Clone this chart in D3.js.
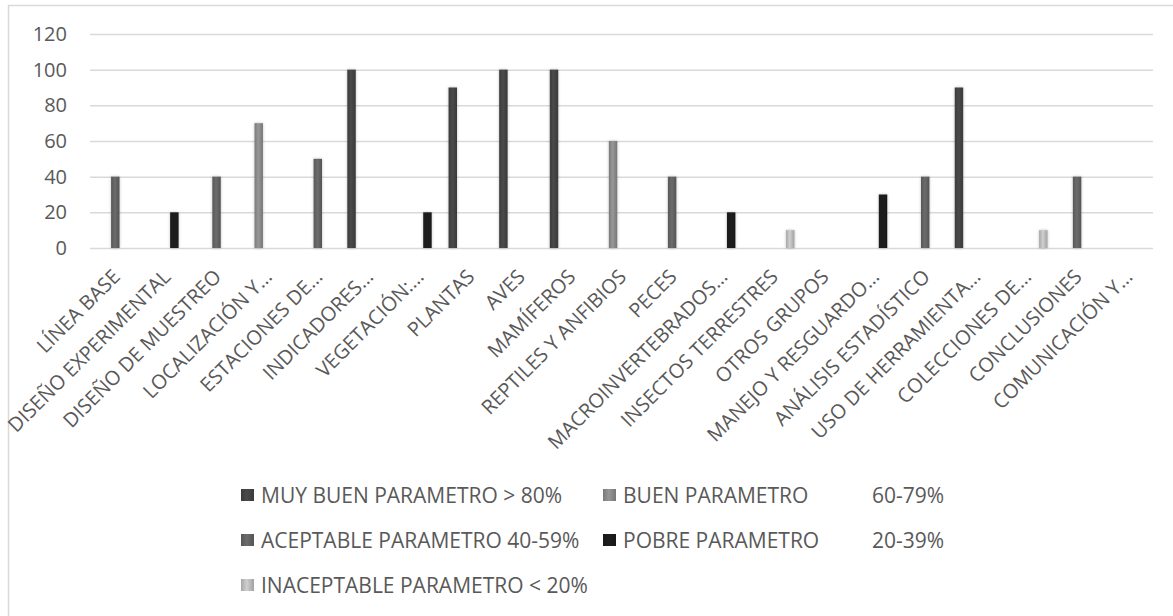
<!DOCTYPE html>
<html>
<head>
<meta charset="utf-8">
<script src="https://cdn.jsdelivr.net/npm/d3@7"></script>
<style>
  html, body { margin: 0; padding: 0; background: #fff; }
  svg { display: block; font-family: "Open Sans", "Liberation Sans", sans-serif; }
</style>
</head>
<body>
<svg id="chart" width="1173" height="616"></svg>
<script>
// Evaluation criteria (categories along the x axis)
const categories = [
  "LÍNEA BASE", "DISEÑO EXPERIMENTAL", "DISEÑO DE MUESTREO", "LOCALIZACIÓN Y…",
  "ESTACIONES DE…", "INDICADORES…", "VEGETACIÓN:…", "PLANTAS", "AVES", "MAMÍFEROS",
  "REPTILES Y ANFIBIOS", "PECES", "MACROINVERTEBRADOS…", "INSECTOS TERRESTRES",
  "OTROS GRUPOS", "MANEJO Y RESGUARDO…", "ANÁLISIS ESTADÍSTICO", "USO DE HERRAMIENTA…",
  "COLECCIONES DE…", "CONCLUSIONES", "COMUNICACIÓN Y…"
];

// One array per rating band; null where the criterion is not in that band
const muyBuen     = [null, null, null, null, null, 100, null, 90, 100, 100, null, null, null, null, null, null, null, 90, null, null, null];
const buen        = [null, null, null, 70, null, null, null, null, null, null, 60, null, null, null, null, null, null, null, null, null, null];
const aceptable   = [40, null, 40, null, 50, null, null, null, null, null, null, 40, null, null, null, null, 40, null, null, 40, null];
const pobre       = [null, 20, null, null, null, null, 20, null, null, null, null, null, 20, null, null, 30, null, null, null, null, null];
const inaceptable = [null, null, null, null, null, null, null, null, null, null, null, null, null, 10, null, null, null, null, 10, null, null];

const seriesLabels = [
  "MUY BUEN PARAMETRO > 80%", "BUEN PARAMETRO", "ACEPTABLE PARAMETRO 40-59%",
  "POBRE PARAMETRO", "INACEPTABLE PARAMETRO < 20%"
];
const seriesRanges = ["", "60-79%", "", "20-39%", ""];
const yTicks = [0, 20, 40, 60, 80, 100, 120];

const seriesValues = [muyBuen, buen, aceptable, pobre, inaceptable];
const seriesColors = ["#444444", "#8a8a8a", "#636363", "#1c1c1c", "#bdbdbd"];

const svg = d3.select("#chart");
const plotLeft = 90, plotRight = 1153, plotTop = 34, plotBottom = 248;
const textColor = "#595959";

// chart area frame
svg.append("rect")
  .attr("x", 8.5).attr("y", 5.5)
  .attr("width", 1300).attr("height", 800)
  .attr("fill", "#fff").attr("stroke", "#d9d9d9").attr("stroke-width", 1.5);

const defs = svg.append("defs");
seriesColors.forEach((c, i) => {
  const base = d3.color(c);
  const g = defs.append("linearGradient")
    .attr("id", "grad" + i).attr("x1", "0").attr("x2", "1").attr("y1", "0").attr("y2", "0");
  g.append("stop").attr("offset", "0%").attr("stop-color", base.darker(0.35));
  g.append("stop").attr("offset", "45%").attr("stop-color", base.brighter(0.25));
  g.append("stop").attr("offset", "100%").attr("stop-color", base.darker(0.45));
});
const shadow = defs.append("filter").attr("id", "shadow")
  .attr("x", "-100%").attr("y", "-10%").attr("width", "300%").attr("height", "120%");
shadow.append("feGaussianBlur").attr("in", "SourceAlpha").attr("stdDeviation", 1.6).attr("result", "b");
shadow.append("feComponentTransfer").attr("in", "b").attr("result", "s")
  .append("feFuncA").attr("type", "linear").attr("slope", 0.25);
const merge = shadow.append("feMerge");
merge.append("feMergeNode").attr("in", "s");
merge.append("feMergeNode").attr("in", "SourceGraphic");

const x = d3.scaleBand().domain(categories).range([plotLeft, plotRight]).padding(0);
const y = d3.scaleLinear().domain([0, 120]).range([plotBottom, plotTop]);
const slot = d3.scaleBand().domain(d3.range(seriesValues.length))
  .range([0, x.bandwidth()]).paddingInner(0).paddingOuter(0.5);

// horizontal gridlines and y tick labels
const yAxis = d3.axisLeft(y).tickValues(yTicks).tickSize(-(plotRight - plotLeft)).tickPadding(23);
const gy = svg.append("g").attr("transform", `translate(${plotLeft},0)`).call(yAxis);
gy.select(".domain").remove();
gy.selectAll(".tick line").attr("stroke", "#d9d9d9").attr("stroke-width", 1.5);
gy.selectAll(".tick text").attr("fill", textColor).style("font-size", "20px")
  .style("font-family", "'Open Sans', sans-serif");

// bars
seriesValues.forEach((vals, si) => {
  svg.append("g").selectAll("rect")
    .data(vals.map((v, i) => ({ v, c: categories[i] })).filter(d => d.v != null))
    .join("rect")
    .attr("x", d => x(d.c) + slot(si))
    .attr("width", slot.bandwidth())
    .attr("y", d => y(d.v))
    .attr("height", d => y(0) - y(d.v))
    .attr("fill", `url(#grad${si})`)
    .attr("filter", "url(#shadow)");
});

// category labels, rotated 45 degrees
const xAxis = d3.axisBottom(x).tickSize(0).tickPadding(0);
const gx = svg.append("g").attr("transform", `translate(0,${plotBottom})`).call(xAxis);
gx.select(".domain").remove();
gx.selectAll(".tick text")
  .attr("fill", textColor)
  .style("font-size", "20px")
  .style("font-family", "'Open Sans', sans-serif")
  .attr("text-anchor", "end")
  .attr("y", 0)
  .attr("dy", 0)
  .attr("transform", "translate(6,30) rotate(-45)");

// legend
const legendPos = [
  { x: 241, y: 495 }, { x: 603, y: 495 },
  { x: 241, y: 540 }, { x: 603, y: 540 },
  { x: 241, y: 585 }
];
const lg = svg.append("g");
seriesLabels.forEach((lab, i) => {
  const p = legendPos[i];
  lg.append("rect")
    .attr("x", p.x).attr("y", p.y - 6)
    .attr("width", 13).attr("height", 12)
    .attr("fill", `url(#grad${i})`);
  lg.append("text")
    .attr("x", p.x + 20).attr("y", p.y)
    .attr("dy", "0.36em")
    .attr("fill", textColor).style("font-size", "21px")
    .text(lab);
  if (seriesRanges[i]) {
    lg.append("text")
      .attr("x", 872).attr("y", p.y)
      .attr("dy", "0.36em")
      .attr("fill", textColor).style("font-size", "21px")
      .text(seriesRanges[i]);
  }
});
</script>
</body>
</html>
